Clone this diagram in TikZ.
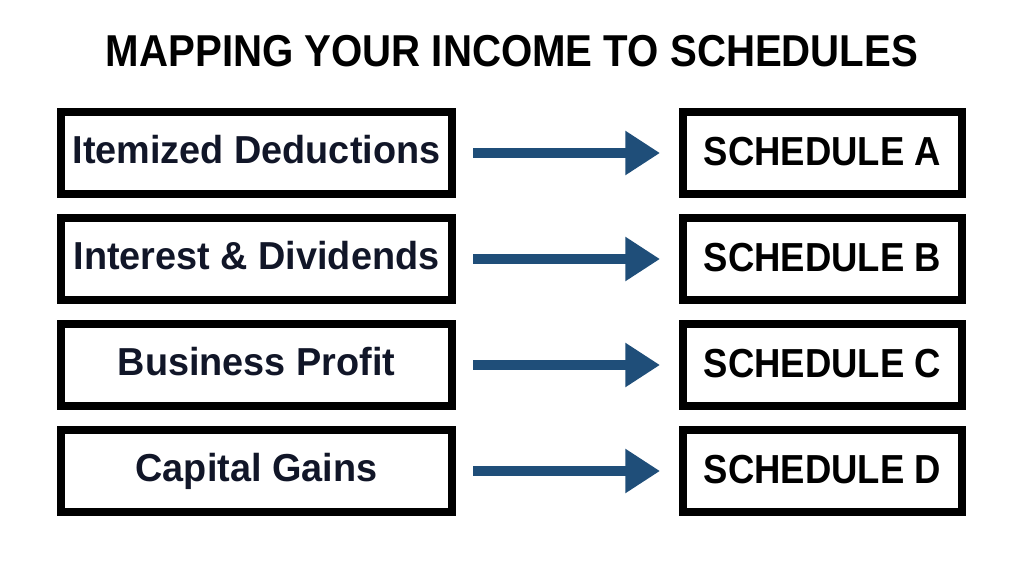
\documentclass[tikz,border=0pt]{standalone}
\usepackage{fontspec}
\setmainfont{Liberation Sans}
\newfontfamily\titlefont[FakeStretch=0.9]{Liberation Sans}
\newfontfamily\labelfont[FakeStretch=0.97]{Liberation Sans}
\usepackage{tikz}
\usetikzlibrary{positioning,arrows.meta}
\definecolor{arrowblue}{RGB}{31,78,121}
\definecolor{labelnavy}{RGB}{17,22,40}

\begin{document}
\begin{tikzpicture}[x=0.75pt,y=-0.75pt,
  incbox/.style={draw,line width=6pt,minimum width=293.25pt,minimum height=61.5pt,inner sep=0pt,
    text=labelnavy,font=\labelfont\bfseries\fontsize{29.25pt}{30pt}\selectfont,
    text height=21pt,text depth=6pt},
  schedbox/.style={draw,line width=6pt,minimum width=209.25pt,minimum height=61.5pt,inner sep=0pt,
    font=\titlefont\bfseries\fontsize{30.4pt}{32pt}\selectfont,
    text height=22pt,text depth=4pt},
  maparrow/.style={draw=arrowblue,line width=7.5pt,-{Triangle[length=26pt,width=31.5pt]},
    shorten <=12.75pt,shorten >=14.25pt},
  node distance=12pt and 167.25pt]
\useasboundingbox (0,0) rectangle (1024,572);
% Title across the top
\node[anchor=base,font=\titlefont\bfseries\fontsize{33.5pt}{36pt}\selectfont] (title) at (512,66)
  {MAPPING YOUR INCOME TO SCHEDULES};
% Income kinds, one under the other
\node[incbox] (itemized) at (256.5,153) {Itemized Deductions};
\node[incbox,below=of itemized] (interest) {Interest \& Dividends};
\node[incbox,below=of interest] (business) {Business Profit};
\node[incbox,below=of business] (capital) {Capital Gains};
% The matching schedules on the right
\node[schedbox,right=of itemized] (schedA) {SCHEDULE A};
\node[schedbox,right=of interest] (schedB) {SCHEDULE B};
\node[schedbox,right=of business] (schedC) {SCHEDULE C};
\node[schedbox,right=of capital] (schedD) {SCHEDULE D};
% Now connect each income to its schedule
\draw[maparrow] (itemized) -- (schedA);
\draw[maparrow] (interest) -- (schedB);
\draw[maparrow] (business) -- (schedC);
\draw[maparrow] (capital) -- (schedD);
\end{tikzpicture}
\end{document}
